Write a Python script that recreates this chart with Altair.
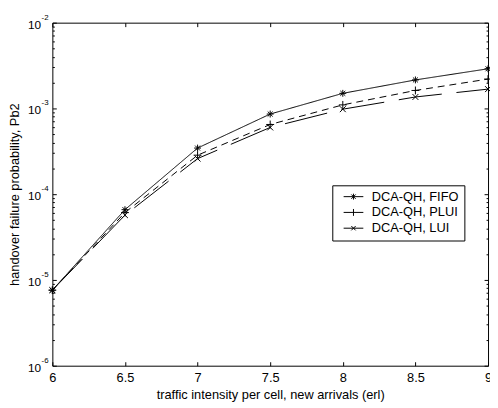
import altair as alt
import pandas as pd

# ---- data ----
traffic = [6, 6.5, 7, 7.5, 8, 8.5, 9]
fifo = [7.6e-6, 6.6e-5, 3.45e-4, 8.6e-4, 1.5e-3, 2.15e-3, 2.9e-3]
plui = [7.6e-6, 6.1e-5, 2.85e-4, 6.5e-4, 1.1e-3, 1.62e-3, 2.2e-3]
lui = [7.6e-6, 5.7e-5, 2.6e-4, 6.0e-4, 9.8e-4, 1.36e-3, 1.68e-3]
series_names = ["DCA-QH, FIFO", "DCA-QH, PLUI", "DCA-QH, LUI"]
x_ticks = [6, 6.5, 7, 7.5, 8, 8.5, 9]
decades = [1e-6, 1e-5, 1e-4, 1e-3, 1e-2]
exponents = ["-6", "-5", "-4", "-3", "-2"]

rows = []
for name, vals in zip(series_names, [fifo, plui, lui]):
    for xv, yv in zip(traffic, vals):
        rows.append({"traffic": xv, "pb": yv, "series": name})
df = pd.DataFrame(rows)
df_exp = pd.DataFrame({"value": decades, "exp": exponents})

y_ticks = [m * d for d in decades[:-1] for m in range(1, 10)] + [decades[-1]]

FONT = "Liberation Sans"
is_decade = "abs(log(datum.value)/LN10 - round(log(datum.value)/LN10)) < 0.001"

xs = alt.Scale(domain=[6, 9], nice=False, zero=False)
ys = alt.Scale(type="log", domain=[1e-6, 1e-2], nice=False)

dash_range = [[1, 0], [7, 5], [44, 15]]
marker_paths = [
    "M-0.7,0L0.7,0M0,-0.7L0,0.7M-0.5,-0.5L0.5,0.5M-0.5,0.5L0.5,-0.5",
    "M-0.8,0L0.8,0M0,-0.8L0,0.8",
    "M-0.6,-0.6L0.6,0.6M-0.6,0.6L0.6,-0.6",
]
# legend symbols: size 100 -> unit = 5 px; line spans 20 px
legend_paths = [
    "M-2,0L2,0M0,-0.6L0,0.6M-0.44,-0.44L0.44,0.44M-0.44,0.44L0.44,-0.44",
    "M-2,0L2,0M0,-0.7L0,0.7",
    "M-2,0L2,0M-0.44,-0.44L0.44,0.44M-0.44,0.44L0.44,-0.44",
]

common_axis = dict(
    domainColor="black", domainWidth=1, tickColor="black", tickWidth=1,
    grid=False, labelFont=FONT, titleFont=FONT, labelColor="black",
    titleColor="black", titleFontWeight="normal", labelOverlap=False,
)

x_bottom = alt.Axis(
    orient="bottom", values=x_ticks, format="~g",
    title="traffic intensity per cell, new arrivals (erl)",
    tickSize={"expr": "-4"}, labelPadding=10, labelFontSize=13,
    titleFontSize=13, titlePadding=4, labelFlush=False, **common_axis,
)
y_left = alt.Axis(
    orient="left", values=y_ticks,
    labelExpr=f"{is_decade} ? '10' : ''",
    title="handover failure probability, Pb2",
    tickSize={"expr": f"{is_decade} ? -4 : -2"}, labelPadding=16,
    labelFontSize=12, labelOffset=1.5, titleFontSize=13, titlePadding=6,
    labelFlush=False, **common_axis,
)
x_top = alt.Axis(
    orient="top", values=x_ticks, labels=False, title=None,
    tickSize={"expr": "-4"}, **common_axis,
)
y_right = alt.Axis(
    orient="right", values=y_ticks, labels=False, title=None,
    tickSize={"expr": f"{is_decade} ? -4 : -2"}, **common_axis,
)

lines = alt.Chart(df).mark_line(color="black", strokeWidth=1).encode(
    x=alt.X("traffic:Q", scale=xs, axis=x_bottom),
    y=alt.Y("pb:Q", scale=ys, axis=y_left),
    strokeDash=alt.StrokeDash(
        "series:N", scale=alt.Scale(domain=series_names, range=dash_range), legend=None
    ),
)

points = alt.Chart(df).mark_point(
    filled=False, color="black", size=100, strokeWidth=1, opacity=1
).encode(
    x=alt.X("traffic:Q", scale=xs, axis=x_top),
    y=alt.Y("pb:Q", scale=ys, axis=y_right),
    shape=alt.Shape(
        "series:N", scale=alt.Scale(domain=series_names, range=marker_paths), legend=None
    ),
)

legend_layer = alt.Chart(df).mark_point(
    filled=False, color="black", size=100, strokeWidth=1, opacity=0
).encode(
    x=alt.X("traffic:Q", scale=xs, axis=None),
    y=alt.Y("pb:Q", scale=ys, axis=None),
    shape=alt.Shape(
        "series:N",
        scale=alt.Scale(domain=series_names, range=legend_paths),
        legend=alt.Legend(
            title=None, orient="none", legendX=284, legendY=165,
            strokeColor="black", fillColor="white", padding=5,
            symbolOffset=10, labelOffset=12, cornerRadius=0,
            labelFont=FONT, labelFontSize=13, labelColor="black",
            symbolSize=100, symbolStrokeWidth=1, symbolStrokeColor="black",
            symbolFillColor="transparent", symbolOpacity=1, rowPadding=2,
        ),
    ),
)

exp_text = alt.Chart(df_exp).mark_text(
    align="left", baseline="alphabetic", fontSize=8, font=FONT, color="black", dy=-3
).encode(
    x=alt.value(-11),
    y=alt.Y("value:Q", scale=ys, axis=None),
    text="exp:N",
)

chart = (
    alt.layer(lines, points, legend_layer, exp_text)
    .resolve_scale(shape="independent")
    .resolve_axis(x="independent", y="independent")
    .properties(
        width=442, height=348,
        autosize=alt.AutoSizeParams(type="none"),
        padding={"left": 45, "top": 12, "right": 2, "bottom": 38},
        background="white",
    )
    .configure_view(stroke=None)
)

chart.save("out.html", embed_options={"renderer": "svg", "actions": False})
